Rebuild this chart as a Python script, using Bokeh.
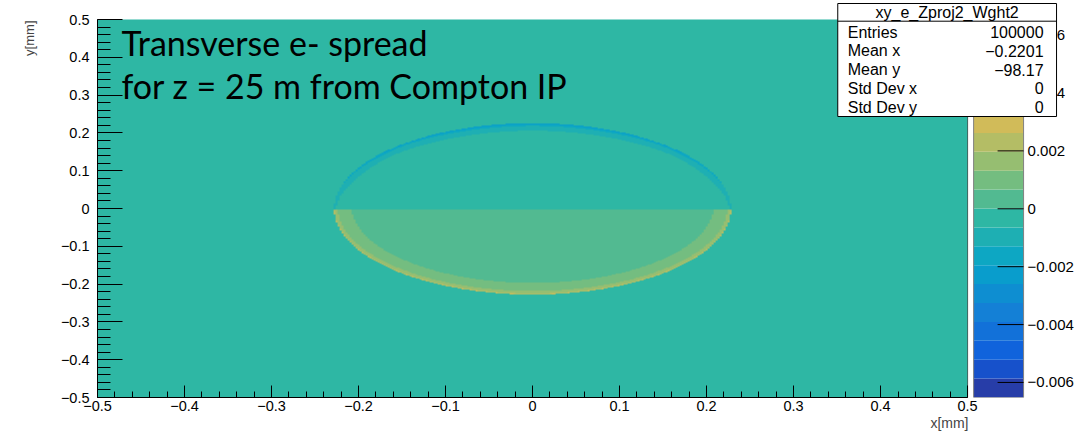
import numpy as np
from bokeh.plotting import figure
from bokeh.models import Range1d, FixedTicker, Label, LinearColorMapper, Title
from bokeh.core.properties import value
from bokeh.embed import file_html
from bokeh.resources import INLINE

# ---------------- data ----------------
hist_name = "xy_e_Zproj2_Wght2"
stat_names = ["Entries", "Mean x", "Mean y", "Std Dev x", "Std Dev y"]
stat_values = ["100000", "\u22120.2201", "\u221298.17", "0", "0"]

x_ticks = [-0.5, -0.4, -0.3, -0.2, -0.1, 0.0, 0.1, 0.2, 0.3, 0.4, 0.5]
x_tick_labels = ["\u22120.5", "\u22120.4", "\u22120.3", "\u22120.2", "\u22120.1",
                 "0", "0.1", "0.2", "0.3", "0.4", "0.5"]
y_ticks = [-0.5, -0.4, -0.3, -0.2, -0.1, 0.0, 0.1, 0.2, 0.3, 0.4, 0.5]
y_tick_labels = ["\u22120.5", "\u22120.4", "\u22120.3", "\u22120.2", "\u22120.1",
                 "0", "0.1", "0.2", "0.3", "0.4", "0.5"]

z_ticks = [-0.006, -0.004, -0.002, 0.0, 0.002, 0.004, 0.006]
z_tick_labels = ["\u22120.006", "\u22120.004", "\u22120.002", "0", "0.002", "0.004", "0.006"]
z_min = -0.00652
z_max = 0.00654
n_contours = 20

# electron spot (elliptical) and its bin contents
spot_center_x = 0.0
spot_center_y = -0.001
spot_semi_x = 0.228
spot_semi_y = 0.2266
spot_split_y = -0.003
rim_rho = [0.0, 0.85, 0.94, 0.98, 1.0]
upper_z = [-0.0001, -0.0003, -0.0008, -0.0015, -0.0025]
lower_z = [0.0005, 0.0006, 0.0010, 0.0017, 0.0027]
angle_sin = [0.0, 0.5, 1.0]
upper_weight = [0.3, 0.7, 1.0]
lower_weight = [0.75, 0.85, 1.0]

note_line1 = "Transverse e- spread"
note_line2 = "for z = 25 m from Compton IP"
x_title = "x[mm]"
y_title = "y[mm]"

# ---------------- ROOT kBird palette, 20 contour colours ----------------
bird_stops = [0.0, 0.125, 0.25, 0.375, 0.5, 0.625, 0.75, 0.875, 1.0]
bird_r = [0.2082, 0.0592, 0.0780, 0.0232, 0.1802, 0.5301, 0.8186, 0.9956, 0.9764]
bird_g = [0.1664, 0.3599, 0.5041, 0.6419, 0.7178, 0.7492, 0.7328, 0.7862, 0.9832]
bird_b = [0.5293, 0.8684, 0.8385, 0.7914, 0.6425, 0.4662, 0.3499, 0.1968, 0.0539]
band_colors = []
for i in range(n_contours):
    f = int((i + 0.99) * 255 / n_contours) / 254.0
    r = np.interp(f, bird_stops, bird_r)
    g = np.interp(f, bird_stops, bird_g)
    b = np.interp(f, bird_stops, bird_b)
    band_colors.append("#%02x%02x%02x" % (int(round(r * 255)), int(round(g * 255)), int(round(b * 255))))

mapper = LinearColorMapper(palette=band_colors, low=z_min, high=z_max)

# ---------------- 2D histogram bins ----------------
nx, ny = 435, 378
xc = -0.5 + (np.arange(nx) + 0.5) / nx
yc = -0.5 + (np.arange(ny) + 0.5) / ny
X, Y = np.meshgrid(xc, yc)
U = (X - spot_center_x) / spot_semi_x
V = (Y - spot_center_y) / spot_semi_y
RHO = np.sqrt(U ** 2 + V ** 2)
SIN = np.abs(V) / np.maximum(RHO, 1e-9)
inside = RHO <= 1.0
up = inside & (Y >= spot_split_y)
lo = inside & (Y < spot_split_y)
Z = np.zeros_like(X)
Z[up] = np.interp(RHO[up], rim_rho, upper_z) * np.interp(SIN[up], angle_sin, upper_weight)
Z[lo] = np.interp(RHO[lo], rim_rho, lower_z) * np.interp(SIN[lo], angle_sin, lower_weight)
Z = Z.astype(np.float32)

# ---------------- layout (page pixels; the figure sits at the page origin) ----------------
W, H = 1087, 434
frame_left_px, frame_bottom_px = 96, 397
px_x = 871.0   # pixels per mm along x
px_y = 378.0   # pixels per mm along y
x_end = -0.5 + (W - frame_left_px) / px_x
y_end = -0.5 + frame_bottom_px / px_y


def xpix(page_x):
    return (page_x - frame_left_px) / px_x - 0.5


def ypix(page_y):
    return (frame_bottom_px - page_y) / px_y - 0.5


p = figure(width=W, height=H, x_range=Range1d(-0.5, x_end), y_range=Range1d(-0.5, y_end),
           output_backend="svg", toolbar_location=None, title=None,
           min_border_left=frame_left_px, min_border_right=0, min_border_top=0,
           min_border_bottom=H - frame_bottom_px)
p.outline_line_color = None
p.background_fill_color = "white"
p.border_fill_color = "white"
p.xgrid.visible = False
p.ygrid.visible = False

z_span = z_max - z_min
p.extra_y_ranges = {"z": Range1d(z_min, z_min + (y_end + 0.5) * z_span)}

# histogram
p.image(image=[Z], x=-0.5, y=-0.5, dw=1.0, dh=1.0, color_mapper=mapper)
p.segment(x0=[0.5], y0=[-0.5], x1=[0.5], y1=[0.5], line_color="black", line_alpha=0.55, line_width=1)

# axes
font = "Liberation Sans"
minor = [round(v, 2) for v in np.arange(-0.5, 0.5001, 0.02)]
for ax, ticks, labels, tin, mtin, stand in [
        (p.xaxis[0], x_ticks, x_tick_labels, 12, 6, 3),
        (p.yaxis[0], y_ticks, y_tick_labels, 25, 13, 8)]:
    ax.ticker = FixedTicker(ticks=ticks, minor_ticks=minor)
    ax.major_label_overrides = dict(zip(ticks, labels))
    ax.bounds = (-0.5, 0.5)
    ax.major_tick_in = tin
    ax.major_tick_out = 0
    ax.minor_tick_in = mtin
    ax.minor_tick_out = 0
    ax.major_label_standoff = stand
    ax.major_label_text_font = font
    ax.major_label_text_font_size = "14.5px"
    ax.major_label_text_color = "black"
    ax.axis_line_color = "black"
    ax.major_tick_line_color = "black"
    ax.minor_tick_line_color = "black"

# axis titles, ROOT style (at the far end of each axis)
p.add_layout(Title(text=x_title, align="right", offset=W - 968, standoff=0,
                   text_font=font, text_font_size="14px", text_font_style="normal",
                   vertical_align="middle"), "below")
p.add_layout(Title(text=y_title, align="right", offset=20, standoff=40,
                   text_font=font, text_font_size="13px", text_font_style="normal",
                   vertical_align="middle"), "left")

# colour bar (palette bands in z units)
cb_left = xpix(973)
cb_right = xpix(1023)
edges = [z_min + i * z_span / n_contours for i in range(n_contours + 1)]
p.quad(left=cb_left, right=cb_right, bottom=edges[:-1], top=edges[1:],
       fill_color=band_colors, line_color=None, y_range_name="z")
p.quad(left=[cb_left], right=[cb_right], bottom=[z_min], top=[z_max],
       fill_color=None, line_color="#808080", line_width=1, y_range_name="z")
p.segment(x0=xpix(997), x1=cb_right, y0=z_ticks, y1=z_ticks,
          line_color="black", line_width=1, y_range_name="z")
p.text(x=[xpix(1027)] * len(z_ticks), y=z_ticks, text=z_tick_labels,
       text_font=value(font), text_font_size="15px", text_align="left",
       text_baseline="middle", text_color="black", y_range_name="z")

# statistics box
p.quad(left=[xpix(837)], right=[xpix(1056)], top=[ypix(3)], bottom=[ypix(116)],
       fill_color="white", line_color="black", line_width=1)
p.segment(x0=[xpix(837)], x1=[xpix(1056)], y0=[ypix(20.7)], y1=[ypix(20.7)],
          line_color="black", line_width=1)
p.text(x=[xpix(946.5)], y=[ypix(12)], text=[hist_name], text_font=value(font),
       text_font_size="16px", text_align="center", text_baseline="middle", text_color="black")
row_y = [ypix(31.7 + k * 18.75) for k in range(len(stat_names))]
p.text(x=[xpix(847)] * len(stat_names), y=row_y, text=stat_names, text_font=value(font),
       text_font_size="16px", text_align="left", text_baseline="middle", text_color="black")
p.text(x=[xpix(1043)] * len(stat_values), y=row_y, text=stat_values, text_font=value(font),
       text_font_size="16px", text_align="right", text_baseline="middle", text_color="black")

# slide annotation (text box centre placed so the baselines sit at y=55 px and y=98 px)
p.add_layout(Label(x=xpix(120), y=ypix(42), text=note_line1, text_font="Lato",
                   text_font_size="34px", text_color="black", text_baseline="middle"))
p.add_layout(Label(x=xpix(120), y=ypix(85.2), text=note_line2, text_font="Lato",
                   text_font_size="34px", text_color="black", text_baseline="middle"))

open("out.html", "w").write(file_html(p, INLINE))
